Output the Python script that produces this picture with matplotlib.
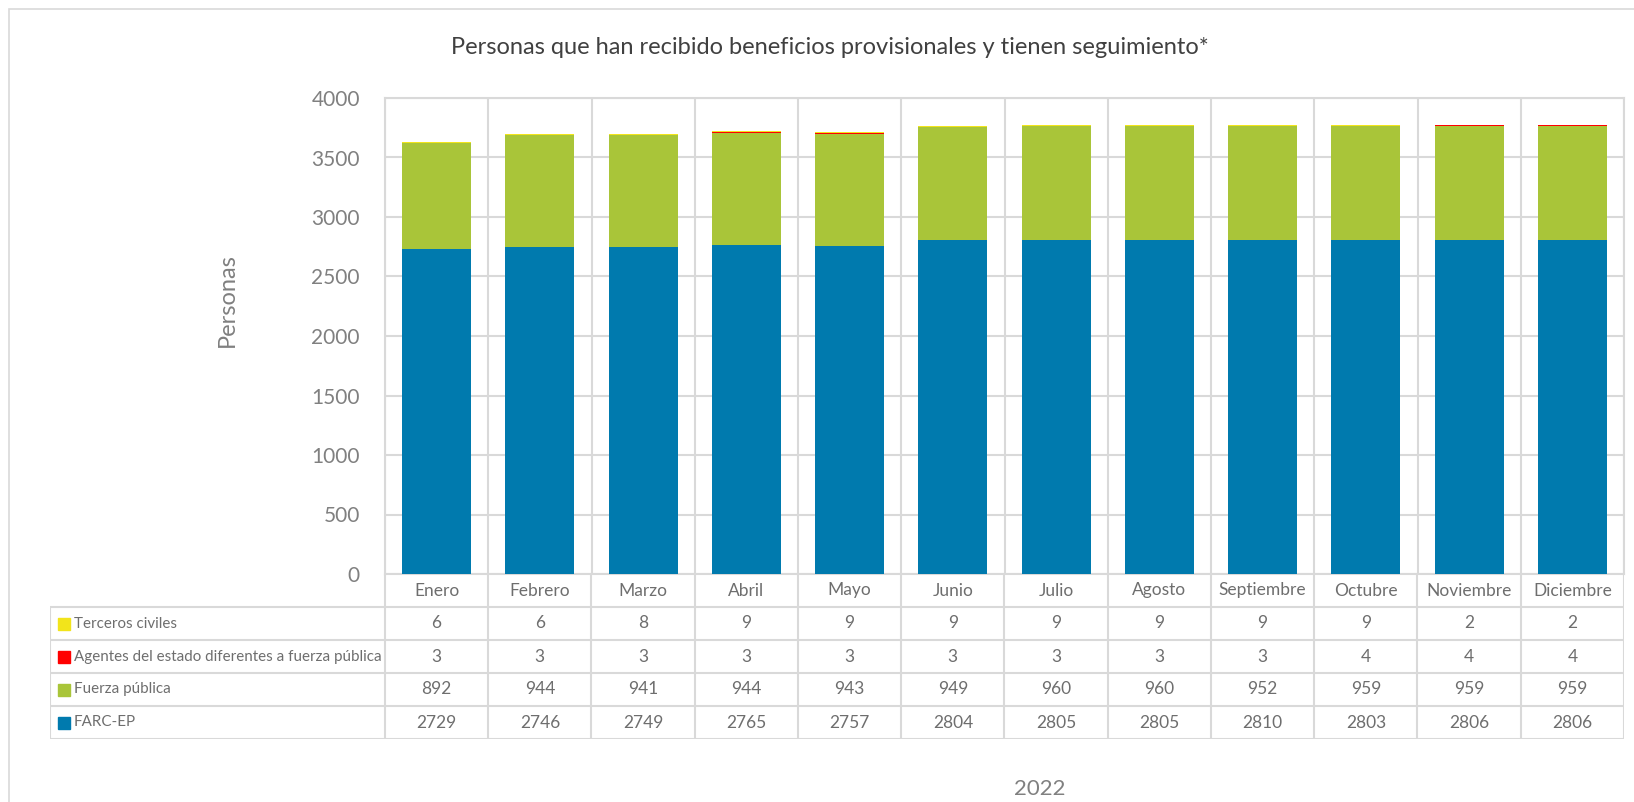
import matplotlib.pyplot as plt
import numpy as np
from matplotlib.patches import Rectangle

W, H = 1634, 802

months = ["Enero", "Febrero", "Marzo", "Abril", "Mayo", "Junio", "Julio",
          "Agosto", "Septiembre", "Octubre", "Noviembre", "Diciembre"]
farc = [2729, 2746, 2749, 2765, 2757, 2804, 2805, 2805, 2810, 2803, 2806, 2806]
fuerza = [892, 944, 941, 944, 943, 949, 960, 960, 952, 959, 959, 959]
agentes = [3, 3, 3, 3, 3, 3, 3, 3, 3, 4, 4, 4]
terceros = [6, 6, 8, 9, 9, 9, 9, 9, 9, 9, 2, 2]

series = [
    ("FARC-EP", farc, "#007AAE"),
    ("Fuerza pública", fuerza, "#A9C539"),
    ("Agentes del estado diferentes a fuerza pública", agentes, "#FF0000"),
    ("Terceros civiles", terceros, "#F2E41B"),
]
y_ticks = [0, 500, 1000, 1500, 2000, 2500, 3000, 3500, 4000]

GRID = "#D9D9D9"
TXT = "#6E6E6E"
plt.rcParams["font.family"] = ["Lato", "DejaVu Sans"]

fig = plt.figure(figsize=(W / 100, H / 100), dpi=100)


def px(x0, y0, x1, y1):
    return [x0 / W, 1 - y1 / H, (x1 - x0) / W, (y1 - y0) / H]


# outer frame (only left/top visible in the crop)
fig.patches.append(Rectangle((9 / W, -0.1), 1.2, 1 - 9 / H + 0.1, transform=fig.transFigure,
                             fill=False, edgecolor=GRID, lw=1.2))

PL, PR, PT, PB = 385, 1624, 98, 574
ax = fig.add_axes(px(PL, PT, PR, PB))
x = np.arange(len(months))
bottom = np.zeros(len(months))
for name, vals, color in series:
    ax.bar(x, vals, 0.67, bottom=bottom, color=color, edgecolor="none", zorder=3)
    bottom += np.array(vals)

ax.set_xlim(-0.5, len(months) - 0.5)
ax.set_ylim(0, 4000)
ax.set_yticks(y_ticks)
ax.set_yticklabels([str(v) for v in y_ticks], fontsize=15, color="#808080")
ax.tick_params(axis="y", length=0, pad=18)
ax.set_xticks([])
ax.yaxis.grid(True, color=GRID, lw=1.5, zorder=0)
for b in np.arange(len(months) + 1) - 0.5:
    ax.axvline(b, color=GRID, lw=1.5, zorder=0)
for s in ax.spines.values():
    s.set_color(GRID)
    s.set_linewidth(1.5)
fig.text(227 / W, 1 - 300 / H, "Personas", rotation=90, ha="center", va="center",
         fontsize=17, color="#808080")

# data table below the plot
TL, TB = 50, 739
tab = fig.add_axes(px(TL, PB, PR, TB))
tab.set_xlim(TL, PR)
tab.set_ylim(TB, PB)
tab.axis("off")
colw = (PR - PL) / len(months)
rowh = (TB - PB) / 5
lk = dict(color=GRID, lw=1.5, solid_capstyle="butt")
for i in range(len(months) + 1):
    tab.plot([PL + i * colw] * 2, [PB, TB], **lk)
tab.plot([TL, TL], [PB + rowh, TB], **lk)
for r in range(1, 6):
    tab.plot([TL, PR], [PB + r * rowh] * 2, **lk)

for i, m in enumerate(months):
    tab.text(PL + (i + 0.5) * colw, PB + 0.5 * rowh, m, ha="center", va="center",
             fontsize=12.5, color=TXT)

for r, (name, vals, color) in enumerate(series[::-1]):
    yc = PB + (r + 1.5) * rowh
    tab.add_patch(Rectangle((58, yc - 6), 12, 12, color=color))
    tab.text(74, yc, name, ha="left", va="center", fontsize=10.9, color=TXT)
    for i, v in enumerate(vals):
        tab.text(PL + (i + 0.5) * colw, yc, str(v), ha="center", va="center",
                 fontsize=12.5, color=TXT)

fig.text(830 / W, 1 - 47 / H, "Personas que han recibido beneficios provisionales y tienen seguimiento*",
         ha="center", va="center", fontsize=17, color="#404040")
fig.text(1040 / W, 1 - 789 / H, "2022", ha="center", va="center", fontsize=16, color="#808080")

fig.savefig("out.png", dpi=100)
